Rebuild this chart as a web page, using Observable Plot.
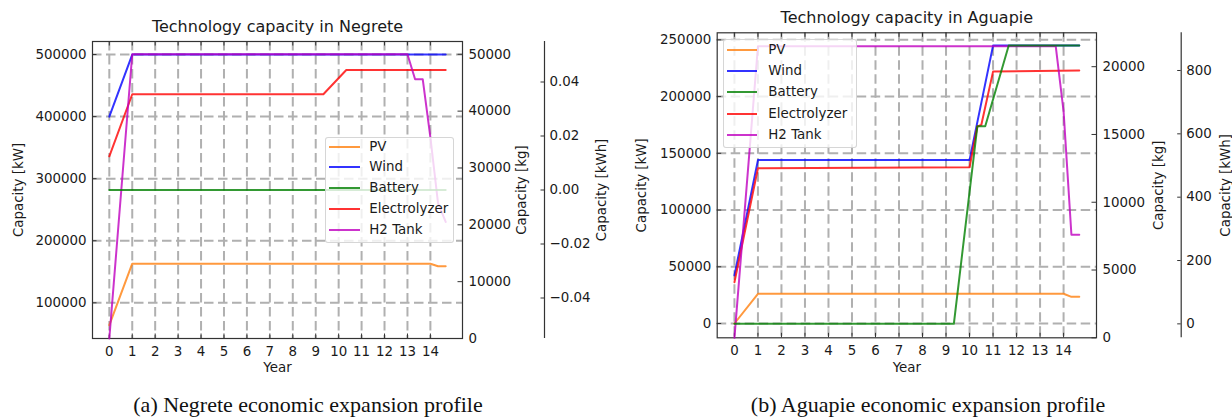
<!DOCTYPE html>
<html><head><meta charset="utf-8">
<script src="https://cdn.jsdelivr.net/npm/d3@7"></script>
<script src="https://cdn.jsdelivr.net/npm/@observablehq/plot@0.6"></script>
<style>
body{margin:0;background:#fff;}
#root{position:relative;width:1232px;height:418px;overflow:hidden;font-family:"DejaVu Sans",sans-serif;}
.layer{position:absolute;top:0;width:616px;height:390px;}
.caption{position:absolute;top:395px;width:500px;text-align:center;font-family:"Liberation Serif",serif;font-size:22px;line-height:20px;height:20px;color:#111;white-space:nowrap;}
</style></head><body><div id="root"></div><script>
// ---------- shared ----------
const years = [0,1,2,3,4,5,6,7,8,9,10,11,12,13,14];
const seriesNames = ["PV","Wind","Battery","Electrolyzer","H2 Tank"];
const seriesColors = ["#ff7f0e","#0000ff","#008000","#ff0000","#bf00bf"];

// ---------- Negrete ----------
const negPVYear   = [0,1,14,14.333,14.667];
const negPVkW     = [64000,163000,163000,159000,159000];
const negWindYear = [0,1,14.667];
const negWindkW   = [400000,500000,500000];
const negElecYear = [0,1,9.333,10.333,14.667];
const negElecKW   = [336000,436000,436000,475000,475000];
const negBattYear = [0,14.667];
const negBattKWh  = [0,0];
const negH2Year   = [0,1,13,13.333,13.667,14,14.333,14.667];
const negH2Kg     = [0,50000,50000,45600,45600,35400,23800,20500];
const negKWTicks  = [100000,200000,300000,400000,500000];
const negKgTicks  = [0,10000,20000,30000,40000,50000];
const negKWhTicks = [-0.04,-0.02,0,0.02,0.04];

// ---------- Aguapie ----------
const aguPVYear   = [0,1,14,14.333,14.667];
const aguPVkW     = [0,26200,26200,23500,23500];
const aguWindYear = [0,1,10,11,14.667];
const aguWindkW   = [42300,144000,144000,244900,244900];
const aguElecYear = [0,1,10,10.333,10.5,11,14.667];
const aguElecKW   = [36400,136800,137700,173600,175000,222000,222900];
const aguBattYear = [0,9.333,10.333,10.667,11.667,14.667];
const aguBattKWh  = [0,0,624,624,879,879];
const aguH2Year   = [0,1,13.667,14,14.333,14.667];
const aguH2Kg     = [0,21500,21500,16700,7600,7600];
const aguKWTicks  = [0,50000,100000,150000,200000,250000];
const aguKgTicks  = [0,5000,10000,15000,20000];
const aguKWhTicks = [0,200,400,600,800];

const X_DOMAIN = [-0.733, 15.4];
const GRID = {stroke:"#b0b0b0", strokeOpacity:1, strokeWidth:2, strokeDasharray:"9.5,4.5"};
const INK = "#333";
const LINE = {x:"year", y:"value", z:"series", stroke:"series", strokeWidth:2, strokeOpacity:0.8};

function rows(series, xs, ys){ return xs.map((x,i)=>({series, year:x, value:ys[i]})); }

const panels = [
  {
    left:0, ml:92, mr:154, mt:41, mb:52,
    title:"Technology capacity in Negrete",
    kWRows:[...rows("PV",negPVYear,negPVkW),...rows("Wind",negWindYear,negWindkW),...rows("Electrolyzer",negElecYear,negElecKW)],
    kgRows:rows("H2 Tank",negH2Year,negH2Kg),
    kWhRows:rows("Battery",negBattYear,negBattKWh),
    kWDomain:[42500,521000], kgDomain:[0,52250], kWhDomain:[-0.055,0.055],
    kWTicks:negKWTicks, kgTicks:negKgTicks, kWhTicks:negKWhTicks, kWhFormat:d3.format(".2f"),
    kWLabelDx:-73.5, kgLabelDx:59.5, kWhLabelDx:139.5, spineDx:82, yearDy:29, titleDy:-14.5,
    legend:{x:325, y:136.7, w:129.3, h:106.6, row0:146.7, step:20.8, swX:3.3, swW:31, txtX:43.3},
    caption:"(a) Negrete economic expansion profile", capCenter:308
  },
  {
    left:616, ml:100.7, mr:136, mt:32.3, mb:52.7,
    title:"Technology capacity in Aguapie",
    kWRows:[...rows("PV",aguPVYear,aguPVkW),...rows("Wind",aguWindYear,aguWindkW),...rows("Electrolyzer",aguElecYear,aguElecKW)],
    kgRows:rows("H2 Tank",aguH2Year,aguH2Kg),
    kWhRows:rows("Battery",aguBattYear,aguBattKWh),
    kWDomain:[-12600,256200], kgDomain:[0,22500], kWhDomain:[-44,919],
    kWTicks:aguKWTicks, kgTicks:aguKgTicks, kWhTicks:aguKWhTicks, kWhFormat:d3.format("d"),
    kWLabelDx:-75.7, kgLabelDx:62.3, kWhLabelDx:129, spineDx:84.7, yearDy:29.7, titleDy:-14.8,
    legend:{x:723.3, y:39.3, w:134, h:108.4, row0:50, step:21.25, swX:3, swW:30, txtX:44},
    caption:"(b) Aguapie economic expansion profile", capCenter:928
  }
];

const root = document.getElementById("root");

function layer(p, yDomain, marks){
  const svg = Plot.plot({
    width:616, height:390,
    marginLeft:p.ml, marginRight:p.mr, marginTop:p.mt, marginBottom:p.mb,
    x:{domain:X_DOMAIN, axis:null},
    y:{domain:yDomain, axis:null},
    color:{domain:seriesNames, range:seriesColors},
    style:{background:"none", fontFamily:"DejaVu Sans", fontSize:"13.4px", color:"#1a1a1a", overflow:"visible"},
    marks
  });
  const d = document.createElement("div");
  d.className = "layer";
  d.style.left = p.left + "px";
  d.appendChild(svg);
  root.appendChild(d);
}

const MID = {lineAnchor:"middle", textAnchor:"middle"};

for (const p of panels){
  const W = 616 - p.ml - p.mr, H = 390 - p.mt - p.mb;
  // primary axis (kW)
  layer(p, p.kWDomain, [
    Plot.gridX(years, GRID),
    Plot.gridY(p.kWTicks, GRID),
    Plot.line(p.kWRows, LINE),
    Plot.frame({stroke:INK, strokeWidth:1.2}),
    Plot.tickX(years, {x:d=>d, insetTop:H-4.5, stroke:INK}),
    Plot.tickX(years, {x:d=>d, insetBottom:H-4.5, stroke:INK}),
    Plot.tickY(p.kWTicks, {y:d=>d, insetRight:W-4.5, stroke:INK}),
    Plot.axisX({ticks:years, anchor:"bottom", label:null, tickSize:0, tickPadding:7.5, tickFormat:d=>String(d)}),
    Plot.axisY({ticks:p.kWTicks, anchor:"left", label:null, tickSize:0, tickPadding:6, tickFormat:d3.format("d")}),
    Plot.text([p.title], {frameAnchor:"top", dy:p.titleDy, fontSize:16, ...MID}),
    Plot.text(["Year"], {frameAnchor:"bottom", dy:p.yearDy, ...MID}),
    Plot.text(["Capacity [kW]"], {frameAnchor:"left", dx:p.kWLabelDx, rotate:-90, ...MID})
  ]);
  // secondary axis (kg)
  layer(p, p.kgDomain, [
    Plot.line(p.kgRows, LINE),
    Plot.tickY(p.kgTicks, {y:d=>d, insetLeft:W-4.5, stroke:INK}),
    Plot.axisY({ticks:p.kgTicks, anchor:"right", label:null, tickSize:0, tickPadding:6, tickFormat:d3.format("d")}),
    Plot.text(["Capacity [kg]"], {frameAnchor:"right", dx:p.kgLabelDx, rotate:-90, ...MID})
  ]);
  // tertiary axis (kWh)
  layer(p, p.kWhDomain, [
    Plot.line(p.kWhRows, LINE),
    Plot.ruleX([X_DOMAIN[1]], {dx:p.spineDx, stroke:INK, strokeWidth:1.2}),
    Plot.tickY(p.kWhTicks, {y:d=>d, insetLeft:W-3.5, dx:p.spineDx, stroke:INK}),
    Plot.axisY({ticks:p.kWhTicks, anchor:"right", label:null, dx:p.spineDx, tickSize:0, tickPadding:5, tickFormat:p.kWhFormat}),
    Plot.text(["Capacity [kWh]"], {frameAnchor:"right", dx:p.kWhLabelDx, rotate:-90, ...MID})
  ]);
  // legend
  const L = p.legend;
  const box = document.createElement("div");
  Object.assign(box.style, {position:"absolute", left:L.x+"px", top:L.y+"px", width:L.w+"px", height:L.h+"px",
    background:"rgba(255,255,255,0.8)", border:"1px solid rgba(204,204,204,0.8)", borderRadius:"3px", boxSizing:"border-box"});
  seriesNames.forEach((name,i)=>{
    const cy = L.row0 + i*L.step - L.y - 1;
    const sw = document.createElement("div");
    Object.assign(sw.style, {position:"absolute", left:L.swX+"px", top:(cy-1)+"px", width:L.swW+"px", height:"2px",
      background:seriesColors[i], opacity:"0.8"});
    const t = document.createElement("div");
    t.textContent = name;
    Object.assign(t.style, {position:"absolute", left:L.txtX+"px", top:(cy-8)+"px", lineHeight:"16px",
      fontSize:"13.4px", color:"#1a1a1a", whiteSpace:"nowrap"});
    box.appendChild(sw); box.appendChild(t);
  });
  root.appendChild(box);
  // caption
  const c = document.createElement("div");
  c.className = "caption";
  c.textContent = p.caption;
  c.style.left = (p.capCenter - 250) + "px";
  root.appendChild(c);
}
</script></body></html>
